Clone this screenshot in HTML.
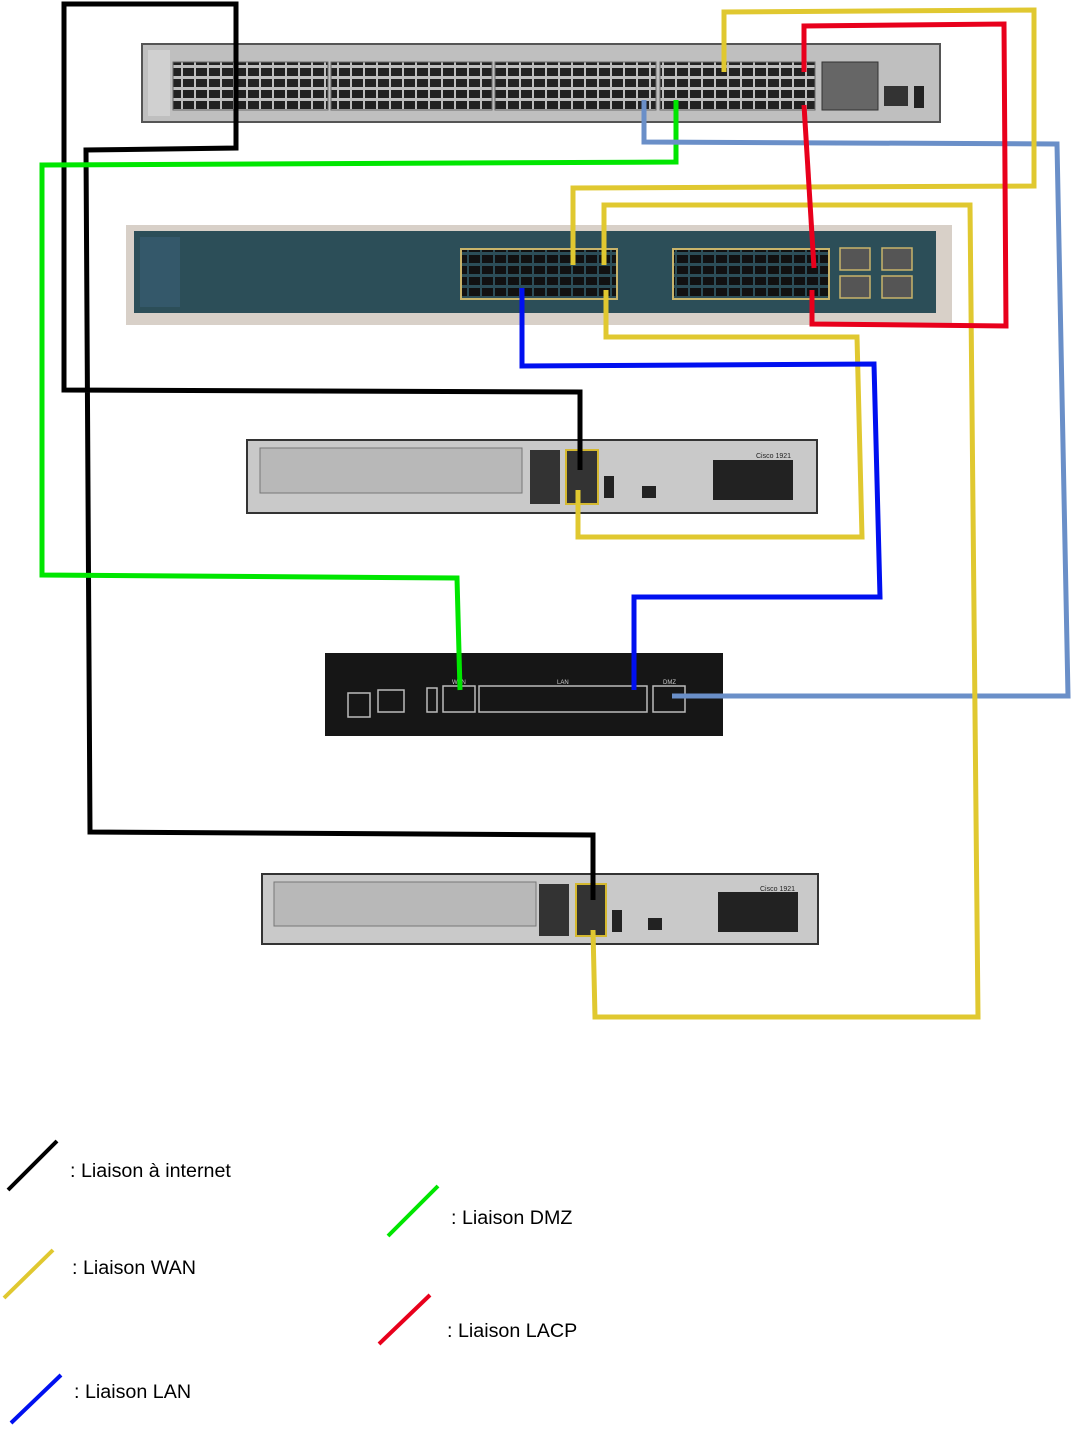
<!DOCTYPE html>
<html><head><meta charset="utf-8"><style>
html,body{margin:0;padding:0;background:#fff;}
svg{display:block;}
text{font-family:"Liberation Sans",sans-serif;}
</style></head><body>
<svg width="1072" height="1429" viewBox="0 0 1072 1429" xmlns="http://www.w3.org/2000/svg">
<defs>
<pattern id="port" width="13" height="22" patternUnits="userSpaceOnUse">
<rect x="1" y="2" width="11" height="8" fill="#222"/><rect x="1" y="13" width="11" height="8" fill="#222"/>
</pattern>
<pattern id="sport" width="13" height="22" patternUnits="userSpaceOnUse">
<rect x="1" y="2" width="11" height="8" fill="#111"/><rect x="1" y="13" width="11" height="8" fill="#111"/>
</pattern>
</defs>
<rect x="142" y="44" width="798" height="78" fill="#bfbfbf" stroke="#555" stroke-width="2"/>
<rect x="148" y="50" width="22" height="66" fill="#d0d0d0"/>
<g fill="url(#port)" stroke="#6a6a6a">
<rect x="173" y="62" width="155" height="48"/>
<rect x="331" y="62" width="161" height="48"/>
<rect x="495" y="62" width="161" height="48"/>
<rect x="660" y="62" width="155" height="48"/>
</g>
<rect x="822" y="62" width="56" height="48" fill="#666" stroke="#333"/>
<rect x="884" y="86" width="24" height="20" fill="#333"/>
<rect x="914" y="86" width="10" height="22" fill="#222"/>
<rect x="126" y="225" width="826" height="100" fill="#d8d0c8"/>
<rect x="134" y="231" width="802" height="82" fill="#2c4e58"/>
<rect x="140" y="237" width="40" height="70" fill="#34586a"/>
<g fill="url(#sport)" stroke="#c8b46a" stroke-width="2">
<rect x="461" y="249" width="156" height="50"/>
<rect x="673" y="249" width="156" height="50"/>
</g>
<g fill="#555" stroke="#c8b46a" stroke-width="1.5">
<rect x="840" y="248" width="30" height="22"/><rect x="882" y="248" width="30" height="22"/>
<rect x="840" y="276" width="30" height="22"/><rect x="882" y="276" width="30" height="22"/>
</g>
<rect x="247" y="440" width="570" height="73" fill="#c9c9c9" stroke="#333" stroke-width="2"/>
<rect x="260" y="448" width="262" height="45" fill="#b8b8b8" stroke="#777"/>
<rect x="530" y="450" width="30" height="54" fill="#333"/>
<rect x="566" y="450" width="32" height="54" fill="#333" stroke="#d4b830" stroke-width="2"/>
<rect x="604" y="476" width="10" height="22" fill="#222"/>
<rect x="642" y="486" width="14" height="12" fill="#222"/>
<rect x="713" y="460" width="80" height="40" fill="#222"/>
<text x="756" y="458" font-size="7" fill="#222">Cisco 1921</text>
<rect x="325" y="653" width="398" height="83" fill="#161616"/>
<g fill="none" stroke="#bbb" stroke-width="1.5">
<rect x="443" y="686" width="32" height="26"/>
<rect x="479" y="686" width="168" height="26"/>
<rect x="653" y="686" width="32" height="26"/>
<rect x="378" y="690" width="26" height="22"/>
<rect x="427" y="688" width="10" height="24"/>
<rect x="348" y="693" width="22" height="24"/>
</g>
<text x="557" y="684" font-size="6" fill="#ccc">LAN</text>
<text x="663" y="684" font-size="6" fill="#ccc">DMZ</text>
<text x="452" y="684" font-size="6" fill="#ccc">WAN</text>
<rect x="262" y="874" width="556" height="70" fill="#c9c9c9" stroke="#333" stroke-width="2"/>
<rect x="274" y="882" width="262" height="44" fill="#b8b8b8" stroke="#777"/>
<rect x="539" y="884" width="30" height="52" fill="#333"/>
<rect x="576" y="884" width="30" height="52" fill="#333" stroke="#d4b830" stroke-width="2"/>
<rect x="612" y="910" width="10" height="22" fill="#222"/>
<rect x="648" y="918" width="14" height="12" fill="#222"/>
<rect x="718" y="892" width="80" height="40" fill="#222"/>
<text x="760" y="891" font-size="7" fill="#222">Cisco 1921</text>
<g fill="none" stroke-width="5" stroke-linejoin="miter">
<polyline stroke="#000" points="580,470 580,392 64,390 64,4 236,4 236,148 86,150 90,832 593,835 593,900"/>
<polyline stroke="#00e600" points="676,100 676,162 42,165 42,575 457,578 460,690"/>
<polyline stroke="#6a8fc8" points="644,100 644,142 1057,144 1068,696 672,696"/>
<polyline stroke="#e0c830" points="724,72 724,12 1034,10 1034,186 573,188 573,265"/>
<polyline stroke="#e0c830" points="604,265 604,205 970,205 978,1017 595,1017 593,930"/>
<polyline stroke="#e0c830" points="606,290 606,337 857,337 862,537 578,537 578,490"/>
<polyline stroke="#e8001c" points="804,72 804,26 1004,24 1006,326 812,324 812,290"/>
<polyline stroke="#e8001c" points="804,105 814,268"/>
<polyline stroke="#0010f0" points="522,288 522,366 874,364 880,597 634,597 634,690"/>
</g>
<g stroke-width="4">
<line x1="8" y1="1190" x2="57" y2="1141" stroke="#000"/>
<line x1="388" y1="1236" x2="438" y2="1186" stroke="#00e600"/>
<line x1="4" y1="1298" x2="53" y2="1250" stroke="#e0c830"/>
<line x1="379" y1="1344" x2="430" y2="1295" stroke="#e8001c"/>
<line x1="11" y1="1423" x2="61" y2="1375" stroke="#0010f0"/>
</g>
<g font-size="19.7" fill="#000">
<text x="70" y="1177">: Liaison à internet</text>
<text x="451" y="1224">: Liaison DMZ</text>
<text x="72" y="1274">: Liaison WAN</text>
<text x="447" y="1337">: Liaison LACP</text>
<text x="74" y="1398">: Liaison LAN</text>
</g>
</svg>
</body></html>
